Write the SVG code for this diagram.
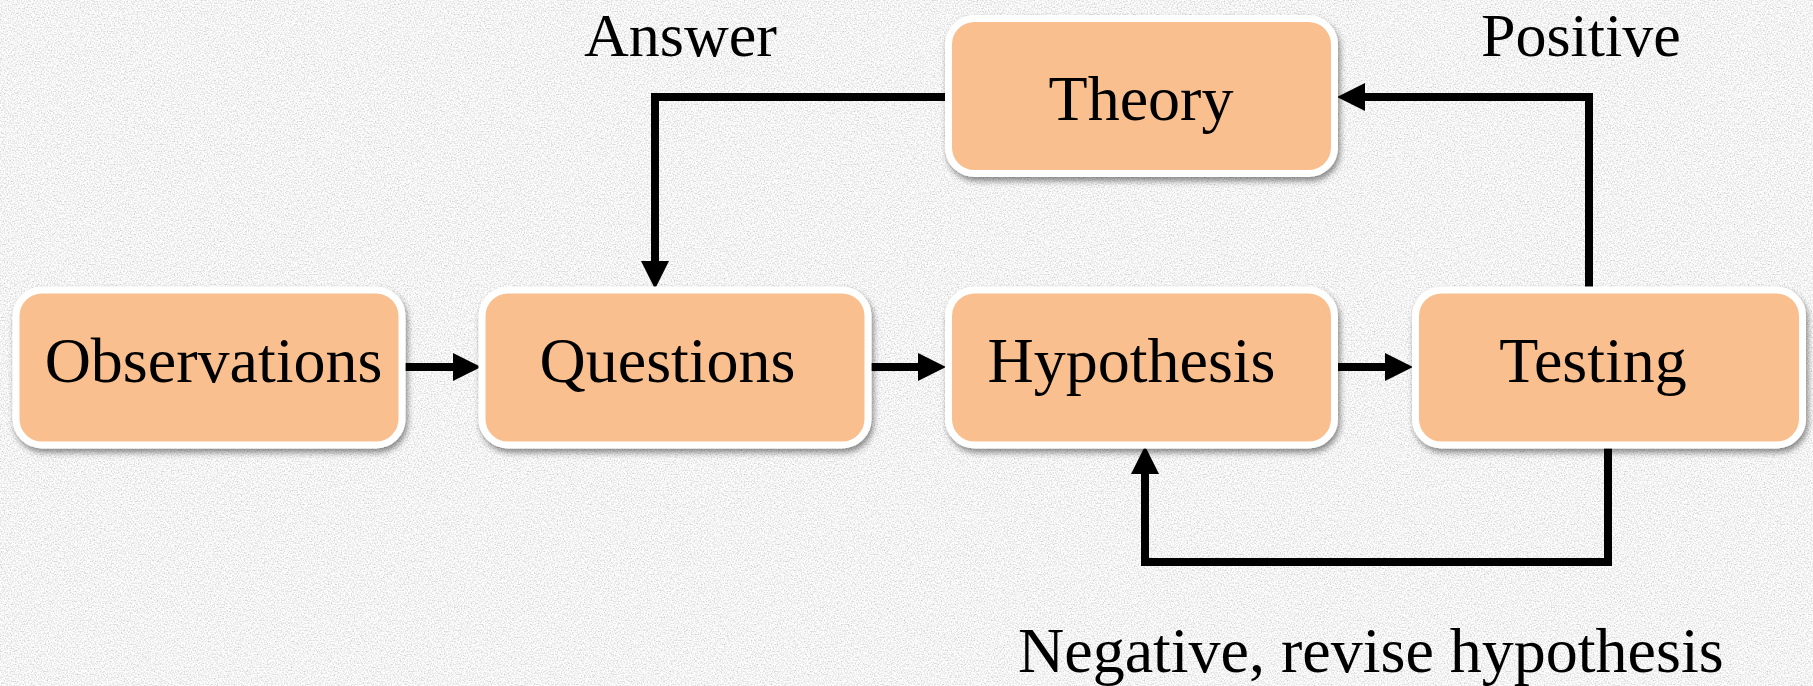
<svg xmlns="http://www.w3.org/2000/svg" width="1813" height="686" viewBox="0 0 1813 686">
  <defs>
    <filter id="noise" x="0" y="0" width="100%" height="100%">
      <feTurbulence type="fractalNoise" baseFrequency="0.7" numOctaves="2" seed="7" result="t"/>
      <feColorMatrix in="t" type="matrix" values="0.8 0 0 0 0.5  0.8 0 0 0 0.5  0.8 0 0 0 0.5  0 0 0 0 1"/>
    </filter>
    <filter id="shadow" x="-10%" y="-10%" width="125%" height="130%">
      <feDropShadow dx="2" dy="4" stdDeviation="3" flood-color="#000" flood-opacity="0.45"/>
    </filter>
    <marker id="arrow" viewBox="0 0 28 28" refX="1" refY="14" markerWidth="28" markerHeight="28" orient="auto" markerUnits="userSpaceOnUse">
      <path d="M0,0 L28,14 L0,28 Z" fill="#000"/>
    </marker>
  </defs>
  <style>
    .node rect { fill: #F9BF8F; stroke: #FFFFFF; stroke-width: 7; filter: url(#shadow); }
    .label { font-family: "Liberation Serif", "Times New Roman", serif; font-size: 64px; fill: #000; }
    .top { font-size: 62px; }
    .conn { fill: none; stroke: #000; stroke-width: 8; stroke-linejoin: miter; stroke-linecap: butt; marker-end: url(#arrow); }
  </style>

  <rect x="0" y="0" width="1813" height="686" filter="url(#noise)"/>

  <g id="connectors">
    <path class="conn" d="M402 367 H454"/>
    <path class="conn" d="M869 367 H919"/>
    <path class="conn" d="M1336 367 H1386"/>
    <path class="conn" d="M948 97 H655 V262"/>
    <path class="conn" d="M1589 290 V97 H1364"/>
    <path class="conn" d="M1608 445 V562 H1145 V473"/>
  </g>

  <g id="node-observations" class="node">
    <rect x="16" y="290" width="386" height="155" rx="26"/>
    <text class="label" x="213.5" y="382" text-anchor="middle">Observations</text>
  </g>
  <g id="node-questions" class="node">
    <rect x="482" y="290" width="386" height="155" rx="26"/>
    <text class="label" x="667.5" y="382" text-anchor="middle">Questions</text>
  </g>
  <g id="node-hypothesis" class="node">
    <rect x="948.5" y="290" width="386" height="155" rx="26"/>
    <text class="label" x="1131.5" y="382" text-anchor="middle">Hypothesis</text>
  </g>
  <g id="node-testing" class="node">
    <rect x="1415.5" y="290" width="387" height="155" rx="26"/>
    <text class="label" x="1593" y="382" text-anchor="middle">Testing</text>
  </g>
  <g id="node-theory" class="node">
    <rect x="948.5" y="18.5" width="386" height="155" rx="26"/>
    <text class="label" x="1141" y="120" text-anchor="middle">Theory</text>
  </g>

  <g id="edge-labels">
    <text class="label top" x="584" y="56">Answer</text>
    <text class="label top" x="1481" y="56">Positive</text>
    <text class="label" x="1018" y="672">Negative, revise hypothesis</text>
  </g>
</svg>
